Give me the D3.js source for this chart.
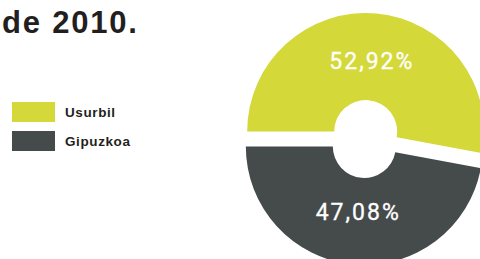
<!DOCTYPE html>
<meta charset="utf-8">
<style>
    body { margin: 0; background: #fff; }
    svg { display: block; }
    .title { font-family: "Liberation Sans", Arial, sans-serif; font-weight: bold; font-size: 31px; fill: #231f20; letter-spacing: 1.8px; }
    .legend text { font-family: "Liberation Sans", Arial, sans-serif; font-weight: bold; font-size: 13.5px; fill: #231f20; letter-spacing: 0.6px; }
    .slice-label { font-family: Roboto, "Liberation Sans", sans-serif; font-weight: 400; font-size: 23px; fill: #fff; letter-spacing: 2px; stroke: #fff; stroke-width: 0.3px; }
</style>
<svg width="480" height="259"></svg>
<script src="https://d3js.org/d3.v7.min.js"></script>
<script>
    const categories = ["Usurbil", "Gipuzkoa"];
    const shares = [52.92, 47.08];
    const shareLabels = ["52,92%", "47,08%"];
    const colors = ["#d4d839", "#454b4b"];

    const cx = 365, cy = 139;
    const outerR = 118.5, innerR = 31.5;
    const explode = 7.5;

    const svg = d3.select("svg");

    svg.append("text")
        .attr("class", "title")
        .attr("x", 2)
        .attr("y", 33)
        .text("de 2010.");

    // legend
    const legend = svg.append("g")
        .attr("class", "legend")
        .attr("transform", "translate(12,102)")
        .selectAll("g")
        .data(categories)
        .enter().append("g")
        .attr("transform", (d, i) => "translate(0," + i * 29 + ")");

    legend.append("rect")
        .attr("width", 43)
        .attr("height", 20)
        .attr("fill", (d, i) => colors[i]);

    legend.append("text")
        .attr("x", 53)
        .attr("y", 15.3)
        .text(d => d);

    // pie, exploded slightly along each bisector
    const pie = d3.pie()
        .sort(null)
        .startAngle(-Math.PI / 2)
        .endAngle(3 * Math.PI / 2)
        .value(d => d);

    const arc = d3.arc().innerRadius(innerR).outerRadius(outerR);
    const labelArc = d3.arc().innerRadius(67).outerRadius(67);

    const arcs = pie(shares);

    const slice = svg.append("g")
        .attr("transform", "translate(" + cx + "," + cy + ")")
        .selectAll("g")
        .data(arcs)
        .enter().append("g")
        .attr("transform", function (d) {
            const mid = (d.startAngle + d.endAngle) / 2;
            return "translate(" + (Math.sin(mid) * explode) + "," + (-Math.cos(mid) * explode) + ")";
        });

    slice.append("path")
        .attr("d", arc)
        .attr("fill", (d, i) => colors[i]);

    slice.append("text")
        .attr("class", "slice-label")
        .attr("transform", d => "translate(" + labelArc.centroid(d) + ")")
        .attr("text-anchor", "middle")
        .attr("dy", (d, i) => i === 0 ? "0.2em" : "0.3em")
        .text((d, i) => shareLabels[i]);
</script>
